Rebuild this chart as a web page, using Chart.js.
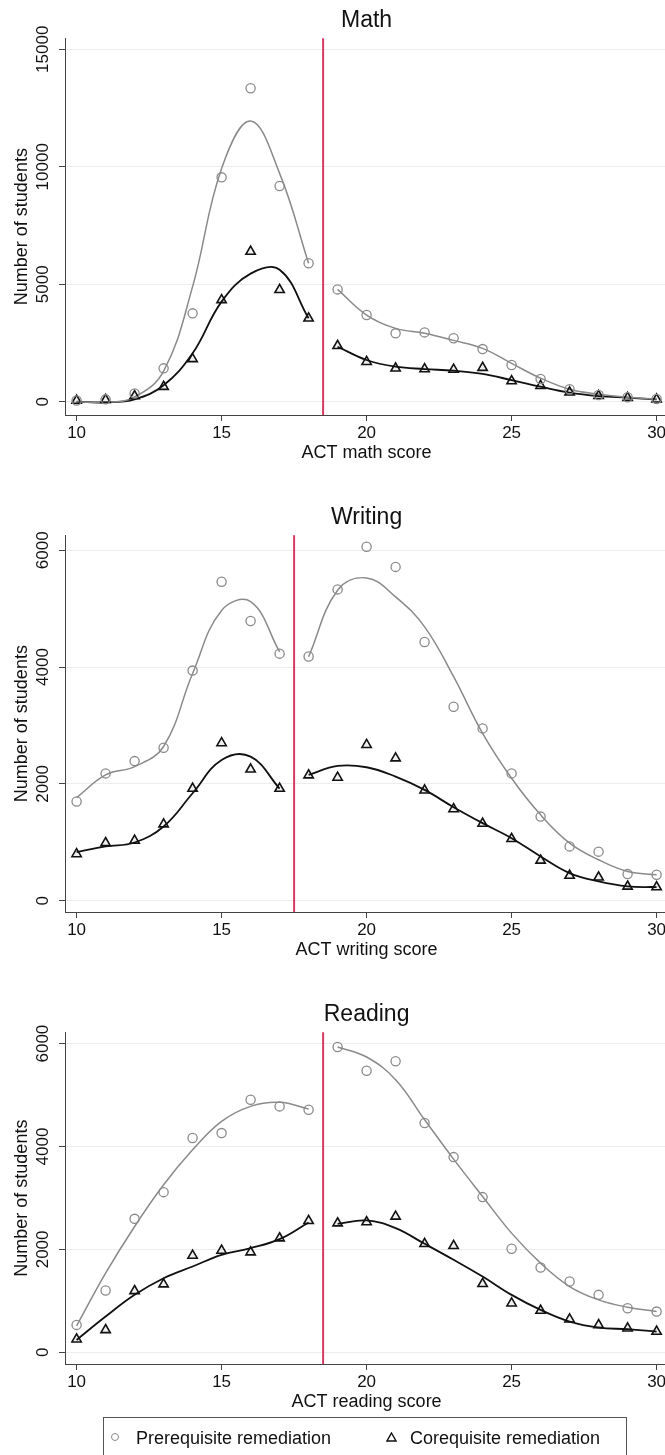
<!DOCTYPE html>
<html>
<head>
<meta charset="utf-8">
<script src="https://cdn.jsdelivr.net/npm/chart.js@4.4.1/dist/chart.umd.min.js"></script>
<style>
  html, body { margin: 0; padding: 0; background: #fff; }
  body { position: relative; width: 665px; height: 1455px; overflow: hidden; font-family: "Liberation Sans", Arial, sans-serif; }
  .panel { position: absolute; left: 0; }
  #legend {
    position: absolute; left: 103px; top: 1417px; width: 524px; height: 44px;
    border: 1px solid #555; box-sizing: border-box; color: #111; font-size: 18px;
  }
  #legend .item { position: absolute; top: 9px; white-space: nowrap; line-height: 22px; }
  #legend .dot { position: absolute; width: 6px; height: 6px; border: 1.2px solid #8a8a8a; border-radius: 50%; top: 15px; }
  #legend svg { position: absolute; top: 14px; }
</style>
</head>
<body>
<div class="panel" style="top:0px"><canvas id="mathChart" width="680" height="470"></canvas></div>
<div class="panel" style="top:497px"><canvas id="writingChart" width="680" height="470"></canvas></div>
<div class="panel" style="top:994px"><canvas id="readingChart" width="680" height="425"></canvas></div>
<div id="legend">
  <span class="dot" style="left:7px"></span>
  <span class="item" style="left:32px">Prerequisite remediation</span>
  <svg width="11" height="10" style="left:282px"><polygon points="5.5,1 10,9 1,9" fill="none" stroke="#111" stroke-width="1.4"/></svg>
  <span class="item" style="left:306px">Corequisite remediation</span>
</div>
<script>
// ACT score on the x axis, same for all three panels
const scores = [10, 11, 12, 13, 14, 15, 16, 17, 18, 19, 20, 21, 22, 23, 24, 25, 26, 27, 28, 29, 30];
const scoreTicks = [10, 15, 20, 25, 30];

// Math
const mathCutoff = 18.5;
const mathTicks = [0, 5000, 10000, 15000];
const mathPrereq = [50, 100, 350, 1420, 3760, 9550, 13340, 9180, 5890, 4780, 3690, 2910, 2950, 2700, 2240, 1560, 970, 530, 285, 190, 115];
const mathCoreq = [50, 80, 240, 640, 1820, 4330, 6390, 4760, 3550, 2380, 1700, 1420, 1390, 1370, 1450, 880, 680, 400, 250, 170, 100];
const mathPrereqFit = [0, -30, 200, 1300, 4900, 9930, 11950, 9720, 5890, 4780, 3690, 3120, 2910, 2610, 2270, 1630, 1000, 530, 320, 190, 115];
const mathCoreqFit = [0, -30, 100, 700, 2060, 4260, 5450, 5620, 3550, 2340, 1775, 1490, 1390, 1320, 1180, 920, 640, 385, 240, 170, 100];

// Writing
const writingCutoff = 17.5;
const writingTicks = [0, 2000, 4000, 6000];
const writingPrereq = [1700, 2180, 2390, 2620, 3940, 5460, 4790, 4230, 4180, 5330, 6060, 5715, 4430, 3320, 2950, 2180, 1440, 930, 840, 456, 444];
const writingCoreq = [800, 990, 1030, 1310, 1920, 2700, 2250, 1920, 2150, 2110, 2670, 2440, 1890, 1570, 1320, 1060, 690, 430, 400, 245, 234];
const writingPrereqFit = [1766, 2154, 2296, 2640, 3890, 4970, 5120, 4262, 4177, 5316, 5527, 5202, 4689, 3835, 2866, 2097, 1470, 986, 701, 501, 444];
const writingCoreqFit = [832, 929, 997, 1271, 1840, 2410, 2467, 1920, 2154, 2308, 2285, 2125, 1897, 1601, 1328, 1071, 758, 473, 330, 245, 234];

// Reading
const readingCutoff = 18.5;
const readingTicks = [0, 2000, 4000, 6000];
const readingPrereq = [532, 1200, 2594, 3113, 4164, 4261, 4910, 4780, 4715, 5935, 5474, 5656, 4456, 3794, 3016, 2011, 1647, 1375, 1116, 856, 791];
const readingCoreq = [253, 435, 1193, 1323, 1881, 1978, 1946, 2218, 2556, 2510, 2530, 2640, 2108, 2069, 1330, 953, 811, 642, 532, 467, 402];
const readingPrereqFit = [512, 1537, 2445, 3256, 3937, 4488, 4780, 4858, 4728, 5935, 5740, 5299, 4521, 3755, 3029, 2316, 1732, 1278, 1018, 876, 791];
const readingCoreqFit = [240, 694, 1116, 1440, 1667, 1894, 2024, 2199, 2523, 2497, 2562, 2413, 2108, 1797, 1472, 1116, 824, 597, 480, 448, 402];

const FONT = '"Liberation Sans", Arial, sans-serif';
const GREY = '#8a8a8a';
const BLACK = '#111111';
const CUTOFF_RED = '#d93a63';

// builds {x, y} points, keeping only the scores that pass "keep"
function pairs(xs, ys, keep) {
    return xs.map((x, i) => ({ x: x, y: ys[i] })).filter(p => keep(p.x));
}

// vertical red line at the placement cutoff, drawn through the x scale
const cutoffLine = {
    id: 'cutoffLine',
    beforeDatasetsDraw(chart, args, opts) {
        const ctx = chart.ctx;
        const x = chart.scales.x.getPixelForValue(opts.value);
        ctx.save();
        ctx.strokeStyle = opts.color;
        ctx.lineWidth = 2;
        ctx.beginPath();
        ctx.moveTo(x, chart.chartArea.top);
        ctx.lineTo(x, chart.chartArea.bottom);
        ctx.stroke();
        ctx.restore();
    }
};

function renderPanel(canvasId, p) {
    const left = x => x < p.cutoff;
    const right = x => x > p.cutoff;
    const fitLine = (data, color, width) => ({
        data: data, showLine: true, pointRadius: 0, borderColor: color,
        borderWidth: width, tension: 0.4, fill: false
    });

    // y tick labels are rotated; centre them about 43px from the left edge
    const labelWidth = String(Math.max(...p.yTicks)).length * 0.556 * 17;

    return new Chart(document.getElementById(canvasId), {
        type: 'scatter',
        data: {
            datasets: [
                {
                    label: 'Prerequisite remediation', data: pairs(scores, p.prereq, () => true),
                    pointStyle: 'circle', pointRadius: 4.6, borderColor: GREY, borderWidth: 1.3,
                    backgroundColor: 'rgba(0,0,0,0)'
                },
                {
                    label: 'Corequisite remediation', data: pairs(scores, p.coreq, () => true),
                    pointStyle: 'triangle', pointRadius: 5.4, borderColor: BLACK, borderWidth: 1.6,
                    backgroundColor: 'rgba(0,0,0,0.06)'
                },
                fitLine(pairs(scores, p.prereqFit, left), GREY, 1.5),
                fitLine(pairs(scores, p.prereqFit, right), GREY, 1.5),
                fitLine(pairs(scores, p.coreqFit, left), BLACK, 1.8),
                fitLine(pairs(scores, p.coreqFit, right), BLACK, 1.8)
            ]
        },
        options: {
            responsive: false,
            animation: false,
            layout: { padding: { left: 0, right: 11.8, top: 0, bottom: 0 } },
            scales: {
                x: {
                    type: 'linear', min: 9.6, max: 30.4,
                    afterBuildTicks: scale => { scale.ticks = scoreTicks.map(v => ({ value: v })); },
                    afterFit: scale => { scale.height = 55; },
                    ticks: { font: { family: FONT, size: 17 }, color: BLACK, padding: 2, maxRotation: 0, autoSkip: false },
                    grid: { drawOnChartArea: false, drawTicks: true, tickLength: 6, tickColor: '#444' },
                    border: { color: '#444', width: 1 },
                    title: {
                        display: true, text: p.xTitle, color: BLACK,
                        font: { family: FONT, size: 18 }, padding: { top: 0, bottom: 6.2 }
                    }
                },
                y: {
                    type: 'linear', min: p.yMin, max: p.yMax,
                    afterBuildTicks: scale => { scale.ticks = p.yTicks.map(v => ({ value: v })); },
                    afterFit: scale => { scale.width = 65; },
                    ticks: {
                        font: { family: FONT, size: 17 }, color: BLACK, minRotation: 90, maxRotation: 90,
                        crossAlign: 'center', padding: 65 - 43 - 6 - labelWidth / 2,
                        callback: v => String(v)
                    },
                    grid: { color: '#ededed', lineWidth: 1, tickLength: 6, tickColor: '#444' },
                    border: { color: '#444', width: 1 },
                    title: {
                        display: true, text: 'Number of students', color: BLACK,
                        font: { family: FONT, size: 18 }, padding: { top: 10.9, bottom: 0 }
                    }
                }
            },
            plugins: {
                legend: { display: false },
                tooltip: { enabled: false },
                title: {
                    display: true, text: p.title, fullSize: false, color: BLACK,
                    font: { family: FONT, size: 23, weight: 'normal' },
                    padding: { top: 6.7, bottom: 4 }
                },
                cutoffLine: { value: p.cutoff, color: CUTOFF_RED }
            }
        },
        plugins: [cutoffLine]
    });
}

renderPanel('mathChart', {
    title: 'Math', xTitle: 'ACT math score', cutoff: mathCutoff,
    yMin: -566, yMax: 15468, yTicks: mathTicks,
    prereq: mathPrereq, coreq: mathCoreq, prereqFit: mathPrereqFit, coreqFit: mathCoreqFit
});

renderPanel('writingChart', {
    title: 'Writing', xTitle: 'ACT writing score', cutoff: writingCutoff,
    yMin: -193, yMax: 6256, yTicks: writingTicks,
    prereq: writingPrereq, coreq: writingCoreq, prereqFit: writingPrereqFit, coreqFit: writingCoreqFit
});

renderPanel('readingChart', {
    title: 'Reading', xTitle: 'ACT reading score', cutoff: readingCutoff,
    yMin: -228, yMax: 6220, yTicks: readingTicks,
    prereq: readingPrereq, coreq: readingCoreq, prereqFit: readingPrereqFit, coreqFit: readingCoreqFit
});
</script>
</body>
</html>
